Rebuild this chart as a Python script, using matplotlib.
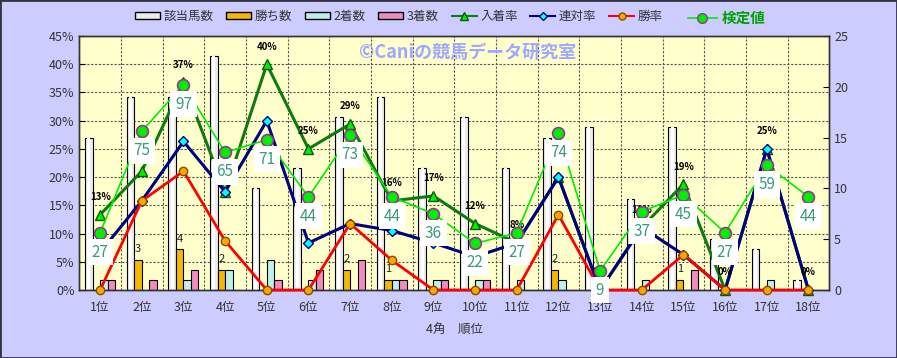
import matplotlib.pyplot as plt
from matplotlib.patches import Patch, Rectangle
from matplotlib.lines import Line2D
import numpy as np

plt.rcParams['font.family'] = ['Noto Sans CJK JP', 'DejaVu Sans']

# data
ranks = [f"{i}位" for i in range(1, 19)]
horses = [15, 19, 19, 23, 10, 12, 17, 19, 12, 17, 12, 15, 16, 9, 16, 5, 4, 1]
wins = [0, 3, 4, 2, 0, 0, 2, 1, 0, 0, 0, 2, 0, 0, 1, 0, 0, 0]
seconds = [1, 0, 1, 2, 3, 1, 0, 1, 1, 1, 1, 1, 0, 1, 0, 0, 1, 0]
thirds = [1, 1, 2, 0, 1, 2, 3, 1, 1, 1, 0, 0, 0, 0, 2, 0, 0, 0]
kentei = [27, 75, 97, 65, 71, 44, 73, 44, 36, 22, 27, 74, 9, 37, 45, 27, 59, 44]

horses_a = np.array(horses, dtype=float)
win_rate = np.array(wins) / horses_a * 100
rentai = (np.array(wins) + np.array(seconds)) / horses_a * 100
place_rate = (np.array(wins) + np.array(seconds) + np.array(thirds)) / horses_a * 100

fig = plt.figure(figsize=(8.97, 3.58), dpi=100, facecolor='#ccccff')
ax = fig.add_axes([0.0884, 0.19, 0.9245 - 0.0884, 0.8994 - 0.19])
ax.set_facecolor('#ffffcc')
ax2 = ax.twinx()
ax3 = ax.twinx()

x = np.arange(len(ranks))
w = 0.18
ax2.bar(x - 1.5 * w, horses, w, color='#ececec', edgecolor='black', linewidth=0.8, zorder=2)
ax2.bar(x - 1.5 * w, horses, w * 0.4, color='white', linewidth=0, zorder=2)
ax2.bar(x - 0.5 * w, wins, w, color='#f5b800', edgecolor='black', linewidth=0.8, zorder=2)
ax2.bar(x + 0.5 * w, seconds, w, color='#bff0f0', edgecolor='black', linewidth=0.8, zorder=2)
ax2.bar(x + 1.5 * w, thirds, w, color='#f08cc0', edgecolor='black', linewidth=0.8, zorder=2)
for i, v in enumerate(wins):
    if v > 0:
        ax2.annotate(str(v), (x[i] - 0.5 * w, v), xytext=(0, 4), textcoords='offset points',
                     ha='center', va='bottom', fontsize=8, color='#222222')
ax2.set_ylim(0, 25)
ax2.set_yticks(range(0, 26, 5))

ax.plot(x, place_rate, color='#0f7a0f', lw=2.2, marker='^', ms=7, mfc='#00ee00', mec='#0a5a0a',
        zorder=5, clip_on=False)
ax.plot(x, rentai, color='#000080', lw=2.2, marker='D', ms=5, mfc='#00ffff', mec='#000080',
        zorder=6, clip_on=False)
ax.plot(x, win_rate, color='#ff0000', lw=2.0, marker='o', ms=6, mfc='#ffa500', mec='#8a4a00',
        zorder=7, clip_on=False)
for i, v in enumerate(place_rate):
    ax.annotate(f"{v:.0f}%", (x[i], v), xytext=(0, 9), textcoords='offset points',
                ha='center', va='bottom', fontsize=7, fontweight='bold', color='black', zorder=8)

ax3.plot(x, kentei, color='#00ee00', lw=1.2, marker='o', ms=8.5, mfc='#00ee00', mec='#993399',
         mew=1.2, zorder=9, clip_on=False)
for i, v in enumerate(kentei):
    ax3.annotate(str(v), (x[i], v), xytext=(0, -14), textcoords='offset points',
                 ha='center', va='center', fontsize=11, color='#3c9a7c', zorder=10,
                 bbox=dict(boxstyle='square,pad=0.3', fc='white', ec='none'))
ax3.set_ylim(0, 120)
ax3.axis('off')

ax.set_zorder(ax2.get_zorder() + 1)
ax.patch.set_visible(False)
ax2.set_zorder(0)
ax3.set_zorder(ax.get_zorder() + 1)
ax2.patch.set_facecolor('#ffffcc')
ax2.patch.set_visible(True)

ax.set_xlim(-0.5, len(ranks) - 0.5)
ax.set_ylim(0, 45)
ax.set_yticks(range(0, 46, 5))
ax.set_yticklabels([f"{v}%" for v in range(0, 46, 5)])
ax.set_xticks(x)
ax.set_xticklabels(ranks)
ax2.set_yticks(range(0, 26, 5))
ax2.grid(False)
for yv in range(5, 45, 5):
    ax2.axhline(yv / 45 * 25, color='#555555', ls=(0, (2, 1.5)), lw=0.8, zorder=1)
for xv in np.arange(0.5, len(ranks) - 1, 1):
    ax2.axvline(xv, color='#555555', ls=(0, (2, 1.5)), lw=0.8, zorder=1)
ax.tick_params(axis='x', which='both', length=0, labelsize=9, labelcolor='#333333', pad=8)
ax.tick_params(axis='y', direction='in', length=4, labelsize=9, labelcolor='#333333')
ax2.tick_params(axis='y', direction='in', length=4, labelsize=9, labelcolor='#333333')
ax.set_xlabel("4角　順位", fontsize=9, color='#333333', labelpad=6)
for a in (ax, ax2):
    for s in a.spines.values():
        s.set_color('#333333')
        s.set_linewidth(1)

fig.text(0.4, 0.855, "©Caniの競馬データ研究室", fontsize=13, color='#a0a8ff', fontweight='bold',
         ha='left', va='center')

handles = [
    Patch(fc='#ececec', ec='black'),
    Patch(fc='#f5b800', ec='black'),
    Patch(fc='#bff0f0', ec='black'),
    Patch(fc='#f08cc0', ec='black'),
    Line2D([], [], color='#0f7a0f', lw=1.5, marker='^', ms=6, mfc='#00ee00', mec='#0a5a0a'),
    Line2D([], [], color='#000080', lw=1.5, marker='D', ms=4, mfc='#00ffff', mec='#000080'),
    Line2D([], [], color='#ff0000', lw=1.5, marker='o', ms=5, mfc='#ffa500', mec='#8a4a00'),
]
labels = ["該当馬数", "勝ち数", "2着数", "3着数", "入着率", "連対率", "勝率"]
fig.legend(handles, labels, loc='center left', bbox_to_anchor=(0.138, 0.955), ncol=7,
           frameon=False, fontsize=9, handlelength=2.0, handleheight=0.45, columnspacing=1.0,
           handletextpad=0.3, labelcolor='#333333')
leg2 = fig.legend([Line2D([], [], color='#00ee00', lw=1.2, marker='o', ms=7, mfc='#00ee00', mec='#993399')],
                  ["検定値"], loc='center left', bbox_to_anchor=(0.752, 0.95), frameon=False,
                  fontsize=10.5, handlelength=2.0, handletextpad=0.3)
for t in leg2.get_texts():
    t.set_color('#00a000')
    t.set_fontweight('bold')

fig.patches.append(Rectangle((0, 0), 1, 1, transform=fig.transFigure, fill=False,
                             ec='#333344', lw=2))
fig.savefig('out.png', dpi=100, facecolor=fig.get_facecolor())
